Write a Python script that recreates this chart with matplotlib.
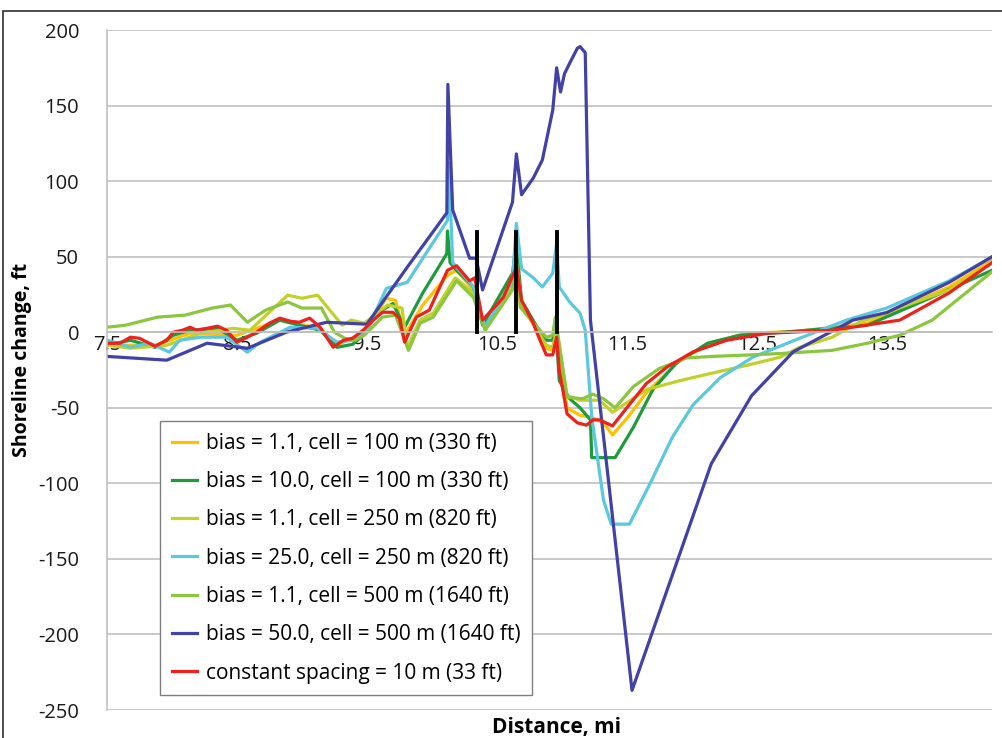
import matplotlib
matplotlib.use("Agg")
import matplotlib.pyplot as plt
from matplotlib.patches import Rectangle

plt.rcParams['font.family'] = ['Open Sans', 'DejaVu Sans']
plt.rcParams['axes.unicode_minus'] = False

# bias = 1.1, cell = 100 m
x_b11_100 = [7.50, 7.87, 8.14, 8.50, 8.83, 9.14, 9.27, 9.47, 9.65, 9.72, 9.79, 9.93, 10.12, 10.19,
             10.32, 10.41, 10.64, 10.69, 10.81, 10.88, 10.93, 10.96, 11.04, 11.14, 11.22, 11.32,
             11.39, 11.52, 11.65, 11.91, 12.16, 12.42, 12.83, 13.35, 13.98, 14.31]
y_b11_100 = [-8.6, -8.6, -0.7, -2, 8, 2.6, -8.6, -0.7, 22.5, 21, -2, 18, 37.7, 41,
             28, 3.3, 37.7, 18, 1.3, -10.6, -12, 1.3, -50, -55, -56, -60,
             -68, -55, -40, -18.5, -6.6, -0.7, 0.7, 6, 30, 47.6]

# bias = 10.0, cell = 100 m
x_b10_100 = [7.50, 7.68, 7.87, 8.01, 8.14, 8.35, 8.50, 8.65, 8.83, 8.98, 9.14, 9.27, 9.39, 9.47,
             9.58, 9.70, 9.79, 9.93, 10.115, 10.12, 10.14, 10.19, 10.32, 10.39, 10.62, 10.65,
             10.69, 10.81, 10.88, 10.93, 10.95, 10.98, 11.06, 11.14, 11.22, 11.23, 11.41, 11.55,
             11.70, 11.88, 12.12, 12.37, 12.70, 13.35, 13.83, 14.31]
y_b10_100 = [-8.6, -5.3, -10, -2, 1.3, 2.6, -5.3, -0.7, 8, 4.6, 1.3, -10, -8, -2,
             12.6, 19, 3.3, 26, 52, 67, 46, 41, 30, 4.6, 39, 58,
             21, 3.3, -5.3, -5.3, 8, -32, -44, -50, -58, -83, -83, -63,
             -38, -20.5, -7.3, -2, 0, 4.6, 22.5, 41]

# bias = 1.1, cell = 250 m
x_b11_250 = [7.50, 7.68, 7.96, 8.22, 8.47, 8.60, 8.89, 9.00, 9.12, 9.31, 9.38, 9.48, 9.66, 9.77,
             9.81, 9.91, 10.01, 10.18, 10.32, 10.41, 10.62, 10.65, 10.69, 10.81, 10.88, 10.93,
             10.96, 11.04, 11.14, 11.29, 11.39, 11.65, 11.91, 12.16, 12.42, 12.68, 12.83, 13.08,
             13.29, 13.98, 14.31]
y_b11_250 = [-8.6, -10.6, -8.6, -0.7, 2.6, 1.3, 24.5, 22.5, 24.5, 4.6, 8, 6, 18, 16,
             -10, 8, 12.6, 36, 26, 2, 30, 46, 19, 1.3, -8.6, -10,
             1.3, -42, -45, -45, -53, -38, -32, -27, -22, -16.5, -10, -3.3,
             6.6, 28, 46]

# bias = 25.0, cell = 250 m
x_b25_250 = [7.50, 7.68, 7.83, 7.98, 8.06, 8.22, 8.42, 8.58, 8.68, 8.91, 9.12, 9.27, 9.39, 9.50,
             9.65, 9.81, 10.12, 10.13, 10.16, 10.20, 10.32, 10.41, 10.62, 10.65, 10.69, 10.78,
             10.85, 10.93, 10.96, 10.98, 11.06, 11.14, 11.18, 11.23, 11.32, 11.38, 11.52, 11.68,
             11.85, 12.01, 12.22, 12.47, 12.83, 13.19, 13.50, 13.98, 14.31]
y_b25_250 = [-5.3, -9.9, -7.3, -13.2, -5.3, -3.3, -3.3, -13.2, -6.6, 3.3, 2.6, -6.6, -5.3, 1.3,
             29, 33, 74, 112, 46, 42, 30, 3.3, 34, 72, 42, 36,
             30, 39, 59, 30, 20, 12.6, 1.3, -56, -111, -127, -127, -100,
             -69.5, -48, -30, -16.5, -4, 8, 16, 34, 49.6]

# bias = 1.1, cell = 500 m
x_b11_500 = [7.50, 7.64, 7.89, 8.10, 8.31, 8.45, 8.58, 8.72, 8.89, 9.00, 9.15, 9.25, 9.33, 9.41,
             9.48, 9.62, 9.72, 9.82, 9.91, 10.01, 10.19, 10.32, 10.41, 10.62, 10.65, 10.68,
             10.81, 10.88, 10.93, 10.95, 11.04, 11.16, 11.24, 11.32, 11.41, 11.55, 11.75, 11.96,
             12.16, 12.45, 12.70, 13.08, 13.35, 13.60, 13.85, 14.31]
y_b11_500 = [3.3, 4.6, 10, 11.3, 16, 18, 6.6, 14.6, 20, 16, 16, 0, -4, -5.3,
             -2, 10, 11.3, -12, 6, 10, 34, 23, 1.3, 28, 44, 16.5,
             3.3, -3.3, -2, 10, -43, -44, -41, -44, -50, -36, -24, -17,
             -16, -15, -14, -12, -7.3, -2, 8, 40]

# bias = 50.0, cell = 500 m
x_b50_500 = [7.50, 7.96, 8.27, 8.58, 8.88, 9.19, 9.50, 9.81, 10.115, 10.123, 10.16, 10.29, 10.34,
             10.39, 10.62, 10.65, 10.69, 10.78, 10.85, 10.93, 10.96, 10.99, 11.02, 11.06, 11.12,
             11.14, 11.18, 11.22, 11.54, 12.15, 12.46, 12.78, 13.24, 13.50, 13.98, 14.31]
y_b50_500 = [-16, -18.5, -7.3, -10.6, 0, 6.6, 5.3, 43, 79, 164, 81, 49, 49,
             28, 86, 118, 91, 102, 114, 147, 175, 159, 171, 178, 188,
             189, 185, 8, -237, -87, -42, -13, 8, 13, 33, 50]

# constant spacing = 10 m
x_const = [7.50, 7.60, 7.68, 7.75, 7.87, 7.96, 8.01, 8.08, 8.14, 8.19, 8.27, 8.35, 8.42, 8.50,
           8.58, 8.65, 8.75, 8.83, 8.91, 8.98, 9.06, 9.14, 9.24, 9.32, 9.39, 9.47, 9.55, 9.62,
           9.70, 9.75, 9.79, 9.88, 9.98, 10.12, 10.19, 10.29, 10.33, 10.39, 10.55, 10.64, 10.65,
           10.69, 10.78, 10.81, 10.88, 10.93, 10.96, 10.98, 11.04, 11.12, 11.19, 11.24, 11.29,
           11.39, 11.50, 11.65, 11.81, 12.01, 12.27, 12.58, 13.08, 13.60, 13.98, 14.31]
y_const = [-7.3, -7.3, -3.3, -4, -9.3, -5.3, 0, 1.3, 3.3, 1.3, 2.6, 4, 1.3, -6.6,
           -3.3, 0, 6, 9.3, 7.3, 6.6, 9.3, 3.3, -9.9, -5.3, -4, 1.3, 8, 13.2,
           13.2, 9.3, -6.6, 10, 14.6, 41, 44, 34, 36, 8, 23, 41, 44,
           21, 6, -0.7, -15, -15, -3.3, -25, -54, -60, -61.5, -58, -58,
           -62, -50, -34, -23, -13, -5.3, -0.7, 1.3, 8, 26, 46]

# structure locations (black bars)
struct_x = [10.35, 10.65, 10.96]
struct_top = 66

series = [
    (x_b11_100, y_b11_100, '#FFC000', 'bias = 1.1, cell = 100 m (330 ft)'),
    (x_b10_100, y_b10_100, '#1E9B3C', 'bias = 10.0, cell = 100 m (330 ft)'),
    (x_b11_250, y_b11_250, '#C2D12A', 'bias = 1.1, cell = 250 m (820 ft)'),
    (x_b25_250, y_b25_250, '#5BC8DE', 'bias = 25.0, cell = 250 m (820 ft)'),
    (x_b11_500, y_b11_500, '#8CC63F', 'bias = 1.1, cell = 500 m (1640 ft)'),
    (x_b50_500, y_b50_500, '#4141A6', 'bias = 50.0, cell = 500 m (1640 ft)'),
    (x_const, y_const, '#F0201C', 'constant spacing = 10 m (33 ft)'),
]

fig = plt.figure(figsize=(10.03, 7.38), dpi=100)
ax = fig.add_axes([107 / 1003, 1 - 710 / 738, 885 / 1003, 680 / 738])

for xs, ys, c, lab in series:
    ax.plot(xs, ys, color=c, lw=2.3, label=lab, solid_joinstyle='round')

for sx in struct_x:
    ax.plot([sx, sx], [0, struct_top], color='black', lw=2.8, zorder=10)

ax.set_xlim(7.5, 14.31)
ax.set_ylim(-250, 200)
ax.set_yticks(range(-250, 201, 50))
ax.set_xticks([7.5, 8.5, 9.5, 10.5, 11.5, 12.5, 13.5])
ax.set_xticklabels(['7.5', '8.5', '9.5', '10.5', '11.5', '12.5', '13.5'])
ax.grid(axis='y', color='#C0C0C0', lw=1.2)
ax.set_axisbelow(True)

for s in ['top', 'right']:
    ax.spines[s].set_visible(False)
ax.spines['left'].set_color('#C0C0C0')
ax.spines['left'].set_linewidth(1.2)
ax.spines['bottom'].set_position(('data', 0))
ax.spines['bottom'].set_color('#C0C0C0')
ax.spines['bottom'].set_linewidth(1.2)
ax.tick_params(axis='both', length=0, labelsize=14.5, colors='#1A1A1A')
ax.tick_params(axis='y', pad=20)
ax.tick_params(axis='x', pad=2)

leg = ax.legend(loc='lower left', bbox_to_anchor=(0.06, 0.022), borderaxespad=0,
                fontsize=15, handlelength=1.2, handletextpad=0.45, labelspacing=0.83,
                fancybox=False, framealpha=1, borderpad=0.55)
leg.get_frame().set_edgecolor('#7F7F7F')
leg.get_frame().set_linewidth(1.0)

fig.text(22 / 1003, 1 - 360 / 738, 'Shoreline change, ft', rotation=90, fontsize=14,
         fontweight='bold', ha='center', va='center')
fig.text(557 / 1003, 1 - 727 / 738, 'Distance, mi', fontsize=15, fontweight='bold',
         ha='center', va='center')

fig.patches.append(Rectangle((3 / 1003, -0.2), 1.5, 1.2 - 11 / 738, transform=fig.transFigure,
                             fill=False, edgecolor='#303030', lw=1.2))

fig.savefig('out.png', dpi=100)
